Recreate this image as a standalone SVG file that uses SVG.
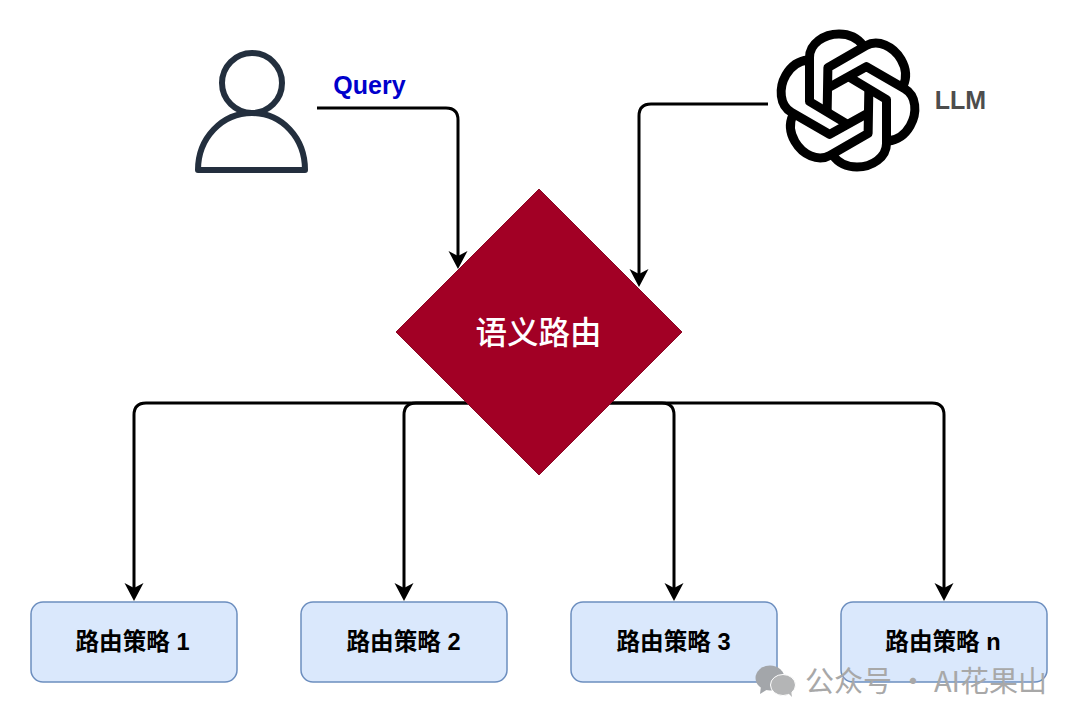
<svg xmlns="http://www.w3.org/2000/svg" width="1080" height="724" viewBox="0 0 1080 724">
<style>
.c{fill:none;stroke:#000;stroke-width:3}
.b{fill:#dae8fc;stroke:#6c8ebf;stroke-width:1.5}
.t{font-family:"Liberation Sans","Noto Sans CJK SC",sans-serif;font-weight:700;font-size:23.6px;fill:#000;text-anchor:middle}
.h{fill:none;stroke:#000;stroke-width:9;stroke-linejoin:round}
</style>
<defs>
<marker id="a" markerUnits="userSpaceOnUse" markerWidth="24" markerHeight="24" refX="8" refY="10" orient="auto"><path d="M0,0.5 L18,10 L0,19.500 L5,10Z" fill="#000"/></marker>
<path id="hook" d="M-1,23.500 L-38.500,1 L-38.500,-43 C-38.500,-57 -24,-66.500 -9,-66.500 C2,-66.500 10,-62 15,-55"/>
</defs>
<rect width="1080" height="724" fill="#fff"/>
<g id="connectors">
<path class="c" marker-end="url(#a)" d="M317,108 H446 Q458,108 458,120 V259"/>
<path class="c" marker-end="url(#a)" d="M768,104 H651 Q639,104 639,116 V277"/>
<path class="c" marker-end="url(#a)" d="M480,403 H146 Q134,403 134,415 V591"/>
<path class="c" marker-end="url(#a)" d="M480,403 H416 Q404,403 404,415 V591"/>
<path class="c" marker-end="url(#a)" d="M600,403 H662 Q674,403 674,415 V591"/>
<path class="c" marker-end="url(#a)" d="M600,403 H932 Q944,403 944,415 V591"/>
</g>
<g id="user" fill="none" stroke="#232f3e" stroke-width="6" stroke-linejoin="round">
<circle cx="252" cy="83" r="30"/>
<path d="M198,170 C198,138 222,113 252,113 C282,113 305,138 305,170Z"/>
</g>
<text x="369.500" y="94" font-family="Liberation Sans,sans-serif" font-weight="700" font-size="25" fill="#0000cc" text-anchor="middle">Query</text>
<g id="llm-logo" transform="translate(848,100.500)">
<use href="#hook" class="h"/>
<use href="#hook" class="h" transform="rotate(60)"/>
<use href="#hook" class="h" transform="rotate(120)"/>
<use href="#hook" class="h" transform="rotate(180)"/>
<use href="#hook" class="h" transform="rotate(240)"/>
<use href="#hook" class="h" transform="rotate(300)"/>
</g>
<text x="960.500" y="109" font-family="Liberation Sans,sans-serif" font-weight="700" font-size="25" fill="#4d4d4d" text-anchor="middle">LLM</text>
<g id="router">
<path d="M539,189 L682,332 L539,475 L396,332Z" fill="#a20025" stroke="#8a0a26"/>
<text x="538.500" y="344" font-family="Noto Sans CJK SC,sans-serif" font-size="31.500" font-weight="500" fill="#fff" text-anchor="middle">语义路由</text>
</g>
<g id="s1"><rect class="b" x="31" y="602" width="206" height="80" rx="12"/><text class="t" x="132.500" y="650">路由策略 1</text></g>
<g id="s2"><rect class="b" x="301" y="602" width="206" height="80" rx="12"/><text class="t" x="403.500" y="650">路由策略 2</text></g>
<g id="s3"><rect class="b" x="571" y="602" width="206" height="80" rx="12"/><text class="t" x="673.500" y="650">路由策略 3</text></g>
<g id="s4"><rect class="b" x="841" y="602" width="206" height="80" rx="12"/><text class="t" x="943" y="650">路由策略 n</text></g>
<g id="watermark">
<ellipse cx="770" cy="678" rx="14.500" ry="12.500" fill="#a3a6aa"/>
<path d="M761,686 L760,694 L768,689Z" fill="#a3a6aa"/>
<ellipse cx="783" cy="685" rx="12.500" ry="10.500" fill="#b4b5b6" stroke="#fff"/>
<path d="M788,693 L792,697 L791,690Z" fill="#b4b5b6"/>
<text x="805" y="692" font-family="Noto Sans CJK SC,sans-serif" font-size="29" fill="#a8a8a8">公众号 · AI花果山</text>
</g>
</svg>
